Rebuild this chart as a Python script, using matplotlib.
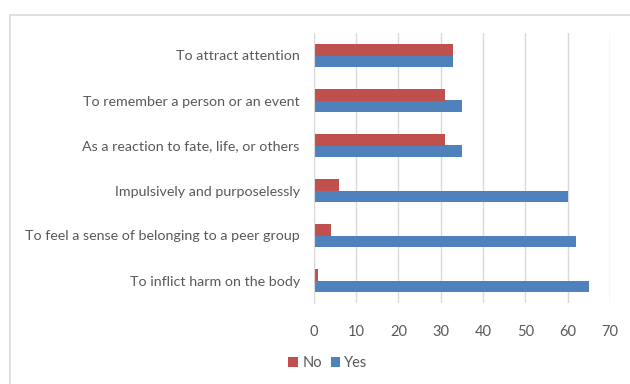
import matplotlib
matplotlib.use("Agg")
import matplotlib.pyplot as plt
from matplotlib.lines import Line2D
import numpy as np

categories = ["To inflict harm on the body",
              "To feel a sense of belonging to a peer group",
              "Impulsively and purposelessly",
              "As a reaction to fate, life, or others",
              "To remember a person or an event",
              "To attract attention"]
yes_vals = [65, 62, 60, 35, 35, 33]
no_vals = [1, 4, 6, 31, 31, 33]
xticks = [0, 10, 20, 30, 40, 50, 60, 70]

W, H = 630, 384
fig = plt.figure(figsize=(W/100, H/100), dpi=100)
plt.rcParams['font.family'] = ['Lato', 'DejaVu Sans']
ax = fig.add_axes([313.7/W, 1-303/H, (610-313.7)/W, (303-33)/H])

y = np.arange(len(categories))
bh = 0.265
ax.barh(y - bh/2, yes_vals, height=bh, color="#4F81BD", label="Yes", zorder=3)
ax.barh(y + bh/2, no_vals, height=bh, color="#C0504D", label="No", zorder=3)

ax.set_xlim(0, 70)
ax.set_ylim(-0.5, len(categories) - 0.5)
ax.set_xticks(xticks)
ax.set_xticklabels([str(v) for v in xticks])
ax.set_yticks(y)
ax.set_yticklabels(categories)
ax.tick_params(axis='both', length=0, colors="#595959")
ax.tick_params(axis='x', pad=16, labelsize=10.5)
ax.tick_params(axis='y', pad=10, labelsize=10.3)
ax.grid(axis='x', color="#D9D9D9", linewidth=1, zorder=0)
for s in ["top", "right", "bottom"]:
    ax.spines[s].set_visible(False)
ax.spines["left"].set_color("#D9D9D9")
ax.spines["left"].set_zorder(4)

handles, labels = ax.get_legend_handles_labels()
leg = fig.legend(handles[::-1], labels[::-1], loc="center", bbox_to_anchor=(328/W, 1-363/H),
                 ncol=2, frameon=False, fontsize=10.5, handlelength=0.65, handleheight=0.65,
                 handletextpad=0.3, columnspacing=0.6, labelcolor="#595959")

# outer chart frame (partially visible)
fig.add_artist(Line2D([9.5/W, 9.5/W, 1.0], [0, 1-14.5/H, 1-14.5/H],
                      transform=fig.transFigure, color="#D9D9D9", linewidth=1.2))

fig.savefig("out.png", dpi=100)
